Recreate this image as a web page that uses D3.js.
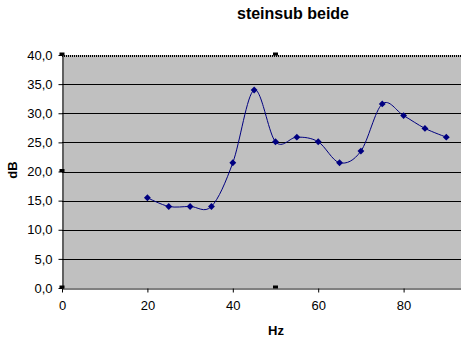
<!DOCTYPE html>
<html>
<head>
<meta charset="utf-8">
<script src="https://cdn.jsdelivr.net/npm/d3@7"></script>
<style>
  body { margin: 0; background: #fff; }
  text { font-family: Arial, "Liberation Sans", sans-serif; fill: #000; }
</style>
</head>
<body>
<div id="chart"></div>
<script>
// Daten
const title = "steinsub beide"
const hz = [20, 25, 30, 35, 40, 45, 50, 55, 60, 65, 70, 75, 80, 85, 90]
const db = [15.5, 14.0, 14.0, 14.0, 21.5, 34.0, 25.1, 25.9, 25.1, 21.5, 23.5, 31.6, 29.6, 27.4, 25.9]
const yTicks = [0, 5, 10, 15, 20, 25, 30, 35, 40]
const xTicks = [0, 20, 40, 60, 80]

const width = 461
const height = 347
const plot = {left: 62, top: 55, right: 489, bottom: 288}

const svg = d3.select("#chart")
    .append("svg")
    .attr("width", width)
    .attr("height", height)

const x = d3.scaleLinear().domain([0, 100]).range([plot.left, plot.right])
const y = d3.scaleLinear().domain([0, 40]).range([plot.bottom, plot.top])

// Zeichenfläche
svg.append("rect")
    .attr("x", plot.left)
    .attr("y", plot.top)
    .attr("width", plot.right - plot.left)
    .attr("height", plot.bottom - plot.top)
    .attr("fill", "#c0c0c0")

// Gitterlinien
svg.append("g")
    .selectAll("line")
    .data(yTicks.filter(d => d > 0 && d < 40))
    .enter().append("line")
    .attr("x1", plot.left)
    .attr("x2", plot.right)
    .attr("y1", d => Math.round(y(d)) + 0.5)
    .attr("y2", d => Math.round(y(d)) + 0.5)
    .attr("stroke", "#000")

// Rahmen (markiert, gestrichelt)
svg.append("line")
    .attr("x1", plot.left).attr("x2", plot.right)
    .attr("y1", plot.top + 1).attr("y2", plot.top + 1)
    .attr("stroke", "#000").attr("stroke-width", 2).attr("stroke-dasharray", "1,1")

// Y-Achse
const yAxis = svg.append("g")
    .attr("transform", `translate(${plot.left + 0.5},0)`)
    .call(d3.axisLeft(y).tickValues(yTicks).tickSize(4).tickSizeOuter(0)
        .tickFormat(d => d3.format(".1f")(d).replace(".", ",")))
yAxis.select(".domain")
    .attr("stroke-width", 2).attr("stroke-dasharray", "1,1")
yAxis.selectAll("text")
    .attr("font-size", "13px")
    .attr("font-family", "Arial, 'Liberation Sans', sans-serif")
    .attr("x", -10)

// X-Achse
const xAxis = svg.append("g")
    .attr("transform", `translate(0,${plot.bottom + 0.5})`)
    .call(d3.axisBottom(x).tickValues(xTicks).tickSize(4).tickSizeOuter(0))
xAxis.select(".domain")
    .attr("stroke-width", 2).attr("stroke-dasharray", "1,1")
xAxis.selectAll("text")
    .attr("font-size", "13px")
    .attr("font-family", "Arial, 'Liberation Sans', sans-serif")
    .attr("y", 12)

// Markierungspunkte (Auswahl)
const handles = [[plot.left, plot.top], [(plot.left + plot.right) / 2, plot.top],
    [plot.left, plot.bottom], [(plot.left + plot.right) / 2, plot.bottom],
    [plot.left, (plot.top + plot.bottom) / 2]]
svg.append("g")
    .selectAll("rect")
    .data(handles)
    .enter().append("rect")
    .attr("x", d => d[0] - 2.5)
    .attr("y", d => d[1] - 2.5)
    .attr("width", 5)
    .attr("height", 3)
    .attr("fill", "#000")

// Linie (geglättet)
const data = hz.map((h, i) => ({hz: h, db: db[i]}))
const line = d3.line()
    .x(d => x(d.hz))
    .y(d => y(d.db))
    .curve(d3.curveCardinal.tension(0))

svg.append("path")
    .datum(data)
    .attr("fill", "none")
    .attr("stroke", "#000080")
    .attr("stroke-width", 1)
    .attr("d", line)

// Punkte (Rauten)
svg.append("g")
    .selectAll("path")
    .data(data)
    .enter().append("path")
    .attr("transform", d => `translate(${x(d.hz)},${y(d.db)})`)
    .attr("d", d3.symbol().type(d3.symbolDiamond2).size(30))
    .attr("fill", "#000080")

// Titel und Achsentitel
svg.append("text")
    .attr("x", 293)
    .attr("y", 19)
    .attr("text-anchor", "middle")
    .attr("font-size", "16px")
    .attr("font-weight", "bold")
    .text(title)

svg.append("text")
    .attr("x", 276)
    .attr("y", 335)
    .attr("text-anchor", "middle")
    .attr("font-size", "13px")
    .attr("font-weight", "bold")
    .text("Hz")

svg.append("text")
    .attr("transform", "translate(17,170) rotate(-90)")
    .attr("text-anchor", "middle")
    .attr("font-size", "13px")
    .attr("font-weight", "bold")
    .text("dB")
</script>
</body>
</html>
